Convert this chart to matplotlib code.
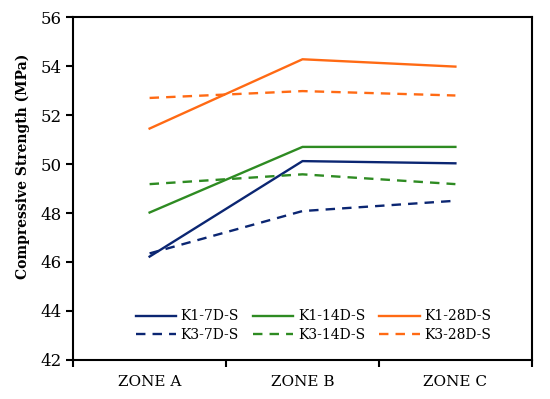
import matplotlib.pyplot as plt
import numpy as np

zones = ['ZONE A', 'ZONE B', 'ZONE C']
k1_7d = [46.22, 50.12, 50.03]
k1_14d = [48.02, 50.7, 50.7]
k1_28d = [51.45, 54.28, 53.98]
k3_7d = [46.35, 48.08, 48.5]
k3_14d = [49.18, 49.58, 49.18]
k3_28d = [52.7, 52.98, 52.8]

navy = '#0b2672'
green = '#2e8b22'
orange = '#ff6a14'

plt.rcParams['font.family'] = ['DejaVu Serif']

fig, ax = plt.subplots(figsize=(5.5, 3.99), dpi=100)
fig.subplots_adjust(left=0.133, right=0.967, top=0.957, bottom=0.098)

x = np.arange(len(zones))
dash = (0, (4, 3))
ax.plot(x, k1_7d, color=navy, lw=1.7, label='K1-7D-S')
ax.plot(x, k3_7d, color=navy, lw=1.7, ls=dash, label='K3-7D-S')
ax.plot(x, k1_14d, color=green, lw=1.7, label='K1-14D-S')
ax.plot(x, k3_14d, color=green, lw=1.7, ls=dash, label='K3-14D-S')
ax.plot(x, k1_28d, color=orange, lw=1.7, label='K1-28D-S')
ax.plot(x, k3_28d, color=orange, lw=1.7, ls=dash, label='K3-28D-S')

ax.set_xlim(-0.5, 2.5)
ax.set_ylim(42, 56)
ax.set_yticks(np.arange(42, 57, 2))
ax.set_xticks([-0.5, 0.5, 1.5, 2.5])
ax.set_xticklabels([])
ax.set_xticks(x, minor=True)
ax.set_xticklabels(zones, minor=True, fontsize=11)
ax.tick_params(axis='x', which='minor', length=0, pad=11)
ax.tick_params(axis='x', which='major', length=5, width=1.5, direction='out')
ax.tick_params(axis='y', length=5, width=1.5, direction='out', labelsize=12)

for s in ax.spines.values():
    s.set_linewidth(1.5)
    s.set_color('black')

ax.set_ylabel('Compressive Strength (MPa)', fontsize=10, fontweight='bold')
ax.yaxis.set_label_coords(-0.095, 0.566)

ax.legend(ncol=3, loc='lower center', bbox_to_anchor=(0.524, 0.015), frameon=False,
          fontsize=10, handlelength=2.9, columnspacing=1.0, handletextpad=0.35,
          labelspacing=0.35)

plt.savefig('out.png', dpi=100)
